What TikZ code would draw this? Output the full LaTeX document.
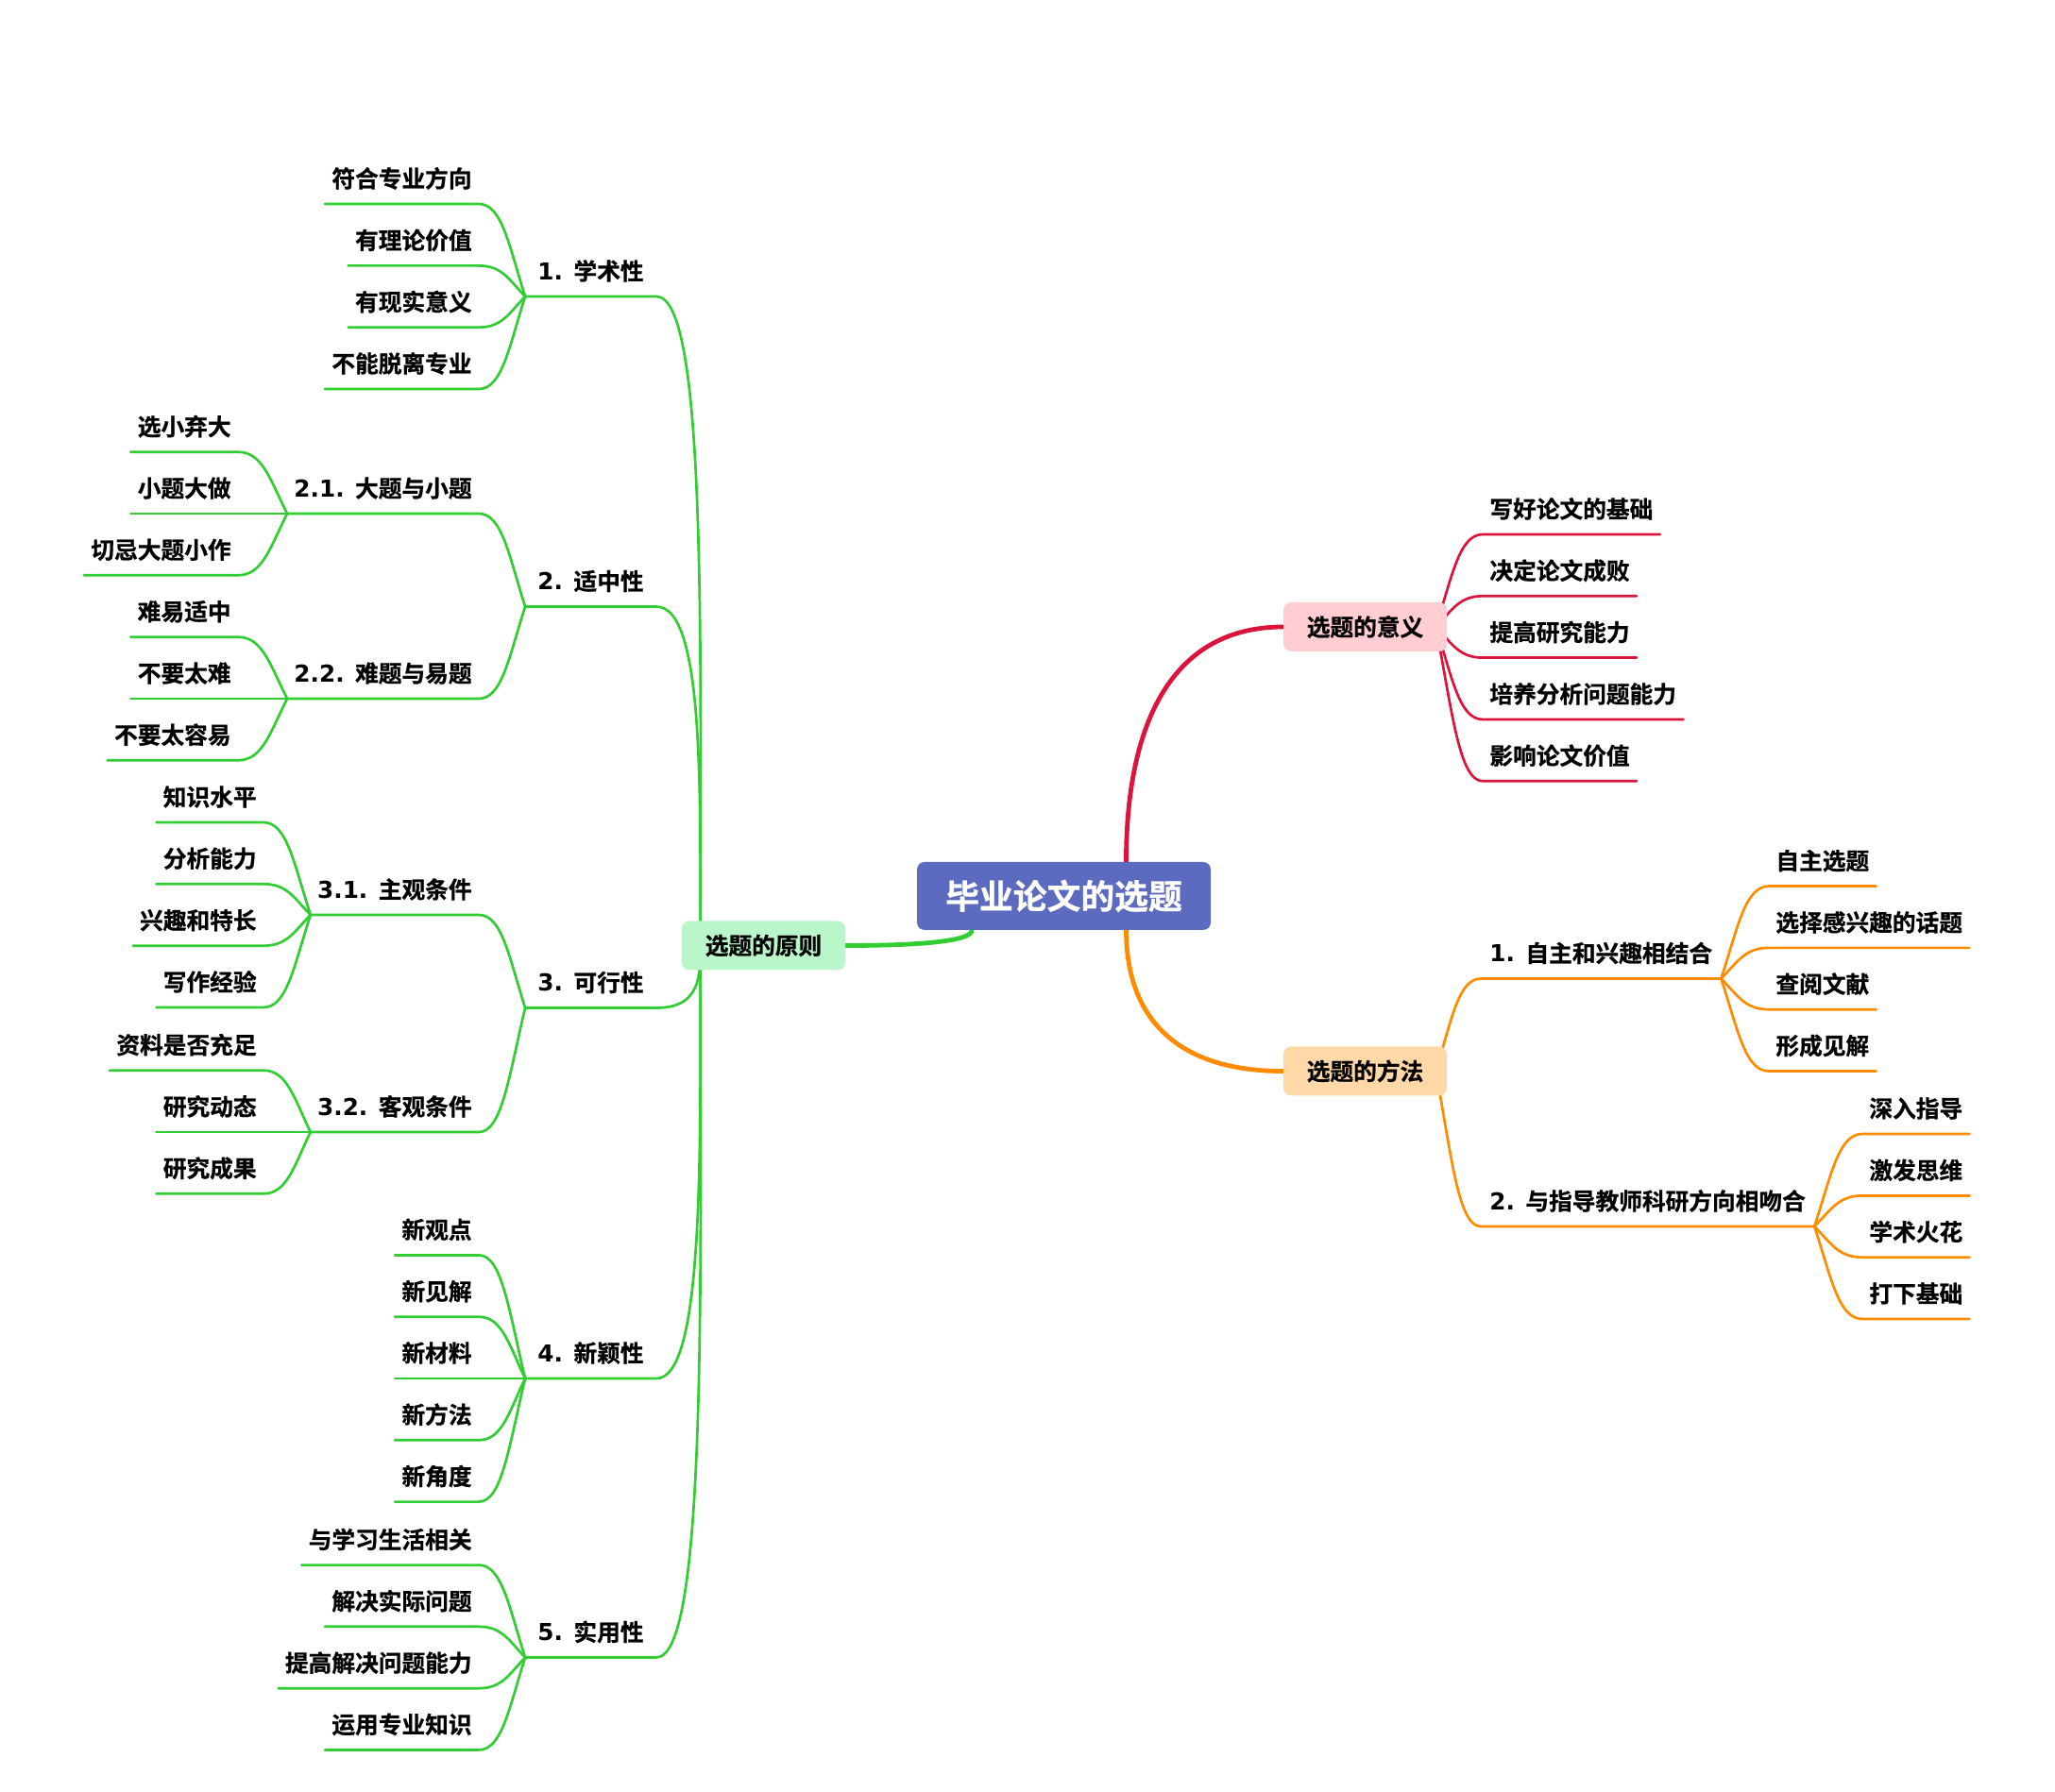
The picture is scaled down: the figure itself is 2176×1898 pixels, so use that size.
\documentclass[tikz,border=0pt]{standalone}
\usepackage{fontspec}
\setmainfont{Noto Sans CJK SC Bold}[FakeBold=0.8]
\newfontfamily\numfont{DejaVu Sans Bold}
\usetikzlibrary{calc, backgrounds}
\definecolor{rootblue}{HTML}{5C6BC0}
\definecolor{redline}{HTML}{DC143C}
\definecolor{orangeline}{HTML}{FF8C00}
\definecolor{greenline}{HTML}{32CD32}
\definecolor{pinkfill}{HTML}{FFCDD2}
\definecolor{peachfill}{HTML}{FFD8A8}
\definecolor{mintfill}{HTML}{B9F6CA}
\newcommand{\nb}[1]{{\numfont #1}}

\begin{document}
\begin{tikzpicture}[
  x=0.5pt, y=-0.5pt,
  font=\fontsize{12.35}{15}\selectfont,
  rootbox/.style={fill=rootblue, rounded corners=4pt, minimum width=155.5pt,
                  minimum height=36pt, inner sep=0pt, text=white,
                  font=\fontsize{17.9}{20}\selectfont},
  mainbox/.style={rounded corners=4pt, minimum width=86.5pt, minimum height=26pt,
                  inner sep=0pt},
  topic/.style={inner xsep=3.5pt, inner ysep=0pt, text height=9.5pt, text depth=8.6pt},
  topicL/.style={topic, anchor=south east},
  topicR/.style={topic, anchor=south west},
  br/.style={to path={let \p1=(\tikztostart), \p2=(\tikztotarget) in
             .. controls ({\x1+0.35*(\x2-\x1)},{\y1+0.55*(\y2-\y1)})
                and ({\x1+0.5*(\x2-\x1)},\y2) .. (\tikztotarget)}},
  lbr/.style={to path={let \p1=(\tikztostart), \p2=(\tikztotarget) in
             .. controls (\x1,{\y1+0.47*(\y2-\y1)})
                and ({\x1+0.01*abs(\y2-\y1)},\y2) .. (\tikztotarget)}},
  mainbr/.style={to path={let \p1=(\tikztostart), \p2=(\tikztotarget) in
             .. controls (\x1,{\y1+0.6*(\y2-\y1)})
                and ({\x1+0.3*(\x2-\x1)},\y2) .. (\tikztotarget)}},
  gline/.style={draw=greenline, line width=1.35pt, line cap=round, line join=round},
  rline/.style={draw=redline, line width=1.35pt, line cap=round, line join=round},
  oline/.style={draw=orangeline, line width=1.35pt, line cap=round, line join=round},
  thick line/.style={line width=2.4pt},
]
\useasboundingbox (0,0) rectangle (2176,1898);

% === Central topic and main branches ===
\node[rootbox] (root) at (1126.5,949) {毕业论文的选题};
\node[mainbox, fill=pinkfill] (meaning) at (1445.5,664) {选题的意义};
\node[mainbox, fill=peachfill] (method) at (1445.5,1134.5) {选题的方法};
\node[mainbox, fill=mintfill] (principle) at (808.5,1001.5) {选题的原则};

\coordinate (rtop) at ($(root.north)+(66,0)$);
\coordinate (rbot) at ($(root.south)+(66,0)$);
\coordinate (rleft) at ($(root.south)+(-97.5,0)$);
\coordinate (mj) at ($(meaning.east)+(-12,0)$);
\coordinate (fj) at ($(method.east)+(-12,0)$);
\coordinate (pj) at ($(principle.west)+(20,0)$);

% === 选题的意义 ===
\node[topicR] (mn1) at (1570,566) {写好论文的基础};
\node[topicR] (mn2) at (1570,631.3) {决定论文成败};
\node[topicR] (mn3) at (1570,696.6) {提高研究能力};
\node[topicR] (mn4) at (1570,762) {培养分析问题能力};
\node[topicR] (mn5) at (1570,827.3) {影响论文价值};

% === 选题的方法 ===
\node[topicR, inner xsep=4.5pt] (f1) at (1568,1036.5) {\nb{1. }自主和兴趣相结合};
\node[topicR, inner xsep=4.5pt] (f2) at (1568,1299) {\nb{2. }与指导教师科研方向相吻合};

\node[topicR] (f1a) at (1873,938.6) {自主选题};
\node[topicR] (f1b) at (1873,1003.9) {选择感兴趣的话题};
\node[topicR] (f1c) at (1873,1069.2) {查阅文献};
\node[topicR] (f1d) at (1873,1134.5) {形成见解};

\node[topicR] (f2a) at (1972,1201) {深入指导};
\node[topicR] (f2b) at (1972,1266.4) {激发思维};
\node[topicR] (f2c) at (1972,1331.7) {学术火花};
\node[topicR] (f2d) at (1972,1397) {打下基础};

% === 选题的原则 ===
\node[topicL, inner xsep=6.5pt] (p1) at (695,314) {\nb{1. }学术性};
\node[topicL, inner xsep=6.5pt] (p2) at (695,642.5) {\nb{2. }适中性};
\node[topicL, inner xsep=6.5pt] (p3) at (695,1067.5) {\nb{3. }可行性};
\node[topicL, inner xsep=6.5pt] (p4) at (695,1460) {\nb{4. }新颖性};
\node[topicL, inner xsep=6.5pt] (p5) at (695,1755.5) {\nb{5. }实用性};

% 1. 学术性
\node[topicL] (p1a) at (507,216) {符合专业方向};
\node[topicL] (p1b) at (507,281.4) {有理论价值};
\node[topicL] (p1c) at (507,346.7) {有现实意义};
\node[topicL] (p1d) at (507,412) {不能脱离专业};

% 2. 适中性
\node[topicL] (p21) at (507,544) {\nb{2.1. }大题与小题};
\node[topicL] (p22) at (507,740) {\nb{2.2. }难题与易题};
\node[topicL] (p21a) at (252,478.7) {选小弃大};
\node[topicL] (p21b) at (252,544) {小题大做};
\node[topicL] (p21c) at (252,609.3) {切忌大题小作};
\node[topicL] (p22a) at (252,674.7) {难易适中};
\node[topicL] (p22b) at (252,740) {不要太难};
\node[topicL] (p22c) at (252,805.3) {不要太容易};

% 3. 可行性
\node[topicL] (p31) at (507,969) {\nb{3.1. }主观条件};
\node[topicL] (p32) at (507,1199) {\nb{3.2. }客观条件};
\node[topicL] (p31a) at (279,871) {知识水平};
\node[topicL] (p31b) at (279,936.3) {分析能力};
\node[topicL] (p31c) at (279,1001.7) {兴趣和特长};
\node[topicL] (p31d) at (279,1067) {写作经验};
\node[topicL] (p32a) at (279,1133.7) {资料是否充足};
\node[topicL] (p32b) at (279,1199) {研究动态};
\node[topicL] (p32c) at (279,1264.3) {研究成果};

% 4. 新颖性
\node[topicL] (p4a) at (507,1329.4) {新观点};
\node[topicL] (p4b) at (507,1394.7) {新见解};
\node[topicL] (p4c) at (507,1460) {新材料};
\node[topicL] (p4d) at (507,1525.3) {新方法};
\node[topicL] (p4e) at (507,1590.6) {新角度};

% 5. 实用性
\node[topicL] (p5a) at (507,1657.6) {与学习生活相关};
\node[topicL] (p5b) at (507,1722.8) {解决实际问题};
\node[topicL] (p5c) at (507,1788.2) {提高解决问题能力};
\node[topicL] (p5d) at (507,1853.4) {运用专业知识};

% === Connectors ===
\begin{scope}[on background layer]
  % main branches
  \draw[rline, thick line] (rtop) to[mainbr] (meaning.west);
  \draw[oline, thick line] (rbot) to[mainbr] (method.west);
  \draw[gline, thick line] (rleft) to[mainbr] (principle.east);

  % 意义
  \draw[rline] (mj) to[br] (mn1.south west) -- (mn1.south east);
  \draw[rline] (mj) to[br] (mn2.south west) -- (mn2.south east);
  \draw[rline] (mj) to[br] (mn3.south west) -- (mn3.south east);
  \draw[rline] (mj) to[br] (mn4.south west) -- (mn4.south east);
  \draw[rline] (mj) to[br] (mn5.south west) -- (mn5.south east);

  % 方法
  \draw[oline] (fj) to[br] (f1.south west) -- (f1.south east);
  \draw[oline] (fj) to[br] (f2.south west) -- (f2.south east);
  \draw[oline] (f1.south east) to[br] (f1a.south west) -- (f1a.south east);
  \draw[oline] (f1.south east) to[br] (f1b.south west) -- (f1b.south east);
  \draw[oline] (f1.south east) to[br] (f1c.south west) -- (f1c.south east);
  \draw[oline] (f1.south east) to[br] (f1d.south west) -- (f1d.south east);
  \draw[oline] (f2.south east) to[br] (f2a.south west) -- (f2a.south east);
  \draw[oline] (f2.south east) to[br] (f2b.south west) -- (f2b.south east);
  \draw[oline] (f2.south east) to[br] (f2c.south west) -- (f2c.south east);
  \draw[oline] (f2.south east) to[br] (f2d.south west) -- (f2d.south east);

  % 原则
  \draw[gline] (pj) to[lbr] (p1.south east) -- (p1.south west);
  \draw[gline] (pj) to[lbr] (p2.south east) -- (p2.south west);
  \draw[gline] (pj) to[lbr] (p3.south east) -- (p3.south west);
  \draw[gline] (pj) to[lbr] (p4.south east) -- (p4.south west);
  \draw[gline] (pj) to[lbr] (p5.south east) -- (p5.south west);

  \draw[gline] (p1.south west) to[br] (p1a.south east) -- (p1a.south west);
  \draw[gline] (p1.south west) to[br] (p1b.south east) -- (p1b.south west);
  \draw[gline] (p1.south west) to[br] (p1c.south east) -- (p1c.south west);
  \draw[gline] (p1.south west) to[br] (p1d.south east) -- (p1d.south west);

  \draw[gline] (p2.south west) to[br] (p21.south east) -- (p21.south west);
  \draw[gline] (p2.south west) to[br] (p22.south east) -- (p22.south west);
  \draw[gline] (p21.south west) to[br] (p21a.south east) -- (p21a.south west);
  \draw[gline] (p21.south west) to[br] (p21b.south east) -- (p21b.south west);
  \draw[gline] (p21.south west) to[br] (p21c.south east) -- (p21c.south west);
  \draw[gline] (p22.south west) to[br] (p22a.south east) -- (p22a.south west);
  \draw[gline] (p22.south west) to[br] (p22b.south east) -- (p22b.south west);
  \draw[gline] (p22.south west) to[br] (p22c.south east) -- (p22c.south west);

  \draw[gline] (p3.south west) to[br] (p31.south east) -- (p31.south west);
  \draw[gline] (p3.south west) to[br] (p32.south east) -- (p32.south west);
  \draw[gline] (p31.south west) to[br] (p31a.south east) -- (p31a.south west);
  \draw[gline] (p31.south west) to[br] (p31b.south east) -- (p31b.south west);
  \draw[gline] (p31.south west) to[br] (p31c.south east) -- (p31c.south west);
  \draw[gline] (p31.south west) to[br] (p31d.south east) -- (p31d.south west);
  \draw[gline] (p32.south west) to[br] (p32a.south east) -- (p32a.south west);
  \draw[gline] (p32.south west) to[br] (p32b.south east) -- (p32b.south west);
  \draw[gline] (p32.south west) to[br] (p32c.south east) -- (p32c.south west);

  \draw[gline] (p4.south west) to[br] (p4a.south east) -- (p4a.south west);
  \draw[gline] (p4.south west) to[br] (p4b.south east) -- (p4b.south west);
  \draw[gline] (p4.south west) to[br] (p4c.south east) -- (p4c.south west);
  \draw[gline] (p4.south west) to[br] (p4d.south east) -- (p4d.south west);
  \draw[gline] (p4.south west) to[br] (p4e.south east) -- (p4e.south west);

  \draw[gline] (p5.south west) to[br] (p5a.south east) -- (p5a.south west);
  \draw[gline] (p5.south west) to[br] (p5b.south east) -- (p5b.south west);
  \draw[gline] (p5.south west) to[br] (p5c.south east) -- (p5c.south west);
  \draw[gline] (p5.south west) to[br] (p5d.south east) -- (p5d.south west);
\end{scope}

\end{tikzpicture}
\end{document}
